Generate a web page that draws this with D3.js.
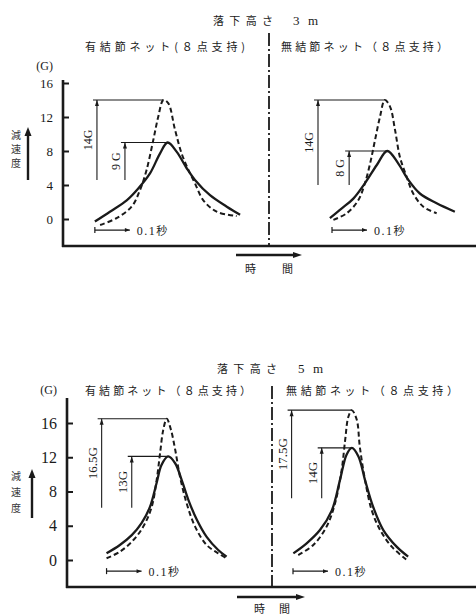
<!DOCTYPE html>
<html><head><meta charset="utf-8">
<script src="https://cdn.jsdelivr.net/npm/d3@7"></script>
<style>body{margin:0;background:#fff}svg{display:block}</style>
</head><body><svg id="c" width="476" height="616"></svg>
<script>
// ---------- data ----------
const yTicks = [0, 4, 8, 12, 16];
const titleWord = "落下高さ";
const heights = ["3 m", "5 m"];
const subtitles = [["有結節ネット(８点支持)", "無結節ネット（８点支持）"], ["有結節ネット（８点支持）", "無結節ネット（８点支持）"]];
// [time (s), deceleration (G)]
const tlSolid = [[0.091,-0.3],[0.134,0.86],[0.182,2.2],[0.215,3.6],[0.249,5.4],[0.277,7.7],[0.299,9.0],[0.325,7.9],[0.353,6.0],[0.377,4.6],[0.42,2.8],[0.468,1.45],[0.506,0.5]];
const tlDashed = [[0.106,-0.7],[0.153,0.1],[0.196,1.45],[0.22,3.4],[0.239,5.8],[0.258,9.3],[0.272,12],[0.287,14],[0.301,13.6],[0.32,10.5],[0.339,7.7],[0.358,5.8],[0.377,4.2],[0.401,2.2],[0.439,0.86],[0.496,0.35]];
const trSolid = [[0.174,0.1],[0.208,1.25],[0.241,2.4],[0.274,4.2],[0.308,6.35],[0.338,8.0],[0.369,6.55],[0.398,4.6],[0.431,3.0],[0.479,1.85],[0.531,0.86]];
const trDashed = [[0.184,-0.1],[0.222,0.67],[0.255,2.2],[0.274,4.2],[0.289,6.55],[0.303,9.3],[0.317,12],[0.331,14],[0.346,13.2],[0.36,10.5],[0.374,7.3],[0.393,5.0],[0.412,3.0],[0.441,1.45],[0.479,0.67]];
const blSolid = [[0.113,0.78],[0.151,1.75],[0.185,2.9],[0.213,4.3],[0.237,6.2],[0.256,9.0],[0.27,11.1],[0.289,12.1],[0.309,11.3],[0.328,9.3],[0.347,7.0],[0.371,4.7],[0.399,2.7],[0.432,1.17],[0.456,0.39]];
const blDashed = [[0.113,0.2],[0.151,0.97],[0.189,2.3],[0.218,3.9],[0.242,6.2],[0.256,9.3],[0.266,12.5],[0.275,15.2],[0.285,16.5],[0.297,15.2],[0.309,12.9],[0.323,9.7],[0.342,6.6],[0.366,3.9],[0.399,1.75],[0.432,0.78],[0.456,0.2]];
const brSolid = [[0.061,0.78],[0.099,1.95],[0.137,3.5],[0.171,5.8],[0.194,9.3],[0.213,12.3],[0.228,13.1],[0.247,12.1],[0.266,9.3],[0.289,6.2],[0.318,3.5],[0.356,1.56],[0.389,0.39]];
const brDashed = [[0.075,0.58],[0.118,1.75],[0.156,3.9],[0.18,6.6],[0.199,10.5],[0.209,14],[0.218,16.7],[0.228,17.5],[0.242,16.4],[0.251,13.2],[0.266,9.3],[0.285,5.8],[0.309,3.5],[0.342,1.56],[0.385,0]];
// peak annotations: [label, bracket time, base G]
const tlPeakLabels = [["14G", 0.097, 4.6], ["9 G", 0.177, 4.6]];
const trPeakLabels = [["14G", 0.140, 4.0], ["8 G", 0.229, 4.0]];
const blPeakLabels = [["16.5G", 0.099, 6.1], ["13G", 0.185, 6.1]];
const brPeakLabels = [["17.5G", 0.056, 7.2], ["14G", 0.142, 7.2]];
const timeBarStart = [0.091, 0.18, 0.113, 0.06];

// ---------- layout ----------
const svg = d3.select("#c");
const JP = "'Noto Sans CJK JP','Noto Sans',sans-serif";
const SERIF = "'Liberation Serif','DejaVu Serif',serif";
const ink = "#1a1a1a";

const charts = [
  {axisX:63, divX:269, axisTop:80, bottom:246, y0:219, y16:83, titleY:25, subY:51, gY:70,
   subX:[[85,160],[281,167]], titleX:[213,60,293,25], tickFont:13, annFont:12,
   ylab:{x:16, ys:[139,153,167], arrowX:28, a0:180, a1:127},
   timeArrow:{x0:236,x1:302,y:255, ty:273, text:"時　間", tx:[245,48]},
   divTop:33,
   panels:[{solid:tlSolid,dashed:tlDashed,labels:tlPeakLabels,tb:timeBarStart[0]},
           {solid:trSolid,dashed:trDashed,labels:trPeakLabels,tb:timeBarStart[1]}]},
  {axisX:67, divX:272, axisTop:398, bottom:587, y0:560, y16:423, titleY:373, subY:395, gY:394,
   subX:[[85,166],[286,172]], titleX:[217,60,298,25], tickFont:16, annFont:13,
   ylab:{x:16, ys:[480,496,512], arrowX:32, a0:518, a1:469},
   timeArrow:{x0:237,x1:305,y:597, ty:613, text:"時間", tx:[254,36]},
   divTop:386,
   panels:[{solid:blSolid,dashed:blDashed,labels:blPeakLabels,tb:timeBarStart[2]},
           {solid:brSolid,dashed:brDashed,labels:brPeakLabels,tb:timeBarStart[3]}]}
];

charts.forEach((c, ci) => {
  const g = svg.append("g");
  const y = d3.scaleLinear().domain([0,16]).range([c.y0, c.y16]);

  // title and subtitles
  g.append("text").attr("x", c.titleX[0]).attr("y", c.titleY).attr("textLength", c.titleX[1])
   .attr("lengthAdjust","spacing").attr("font-family", JP).attr("font-size", 11).attr("fill", ink).text(titleWord);
  g.append("text").attr("x", c.titleX[2]).attr("y", c.titleY).attr("textLength", c.titleX[3])
   .attr("lengthAdjust","spacing").attr("font-family", SERIF).attr("font-size", 13).attr("fill", ink).text(heights[ci]);
  subtitles[ci].forEach((s, i) => {
    g.append("text").attr("x", c.subX[i][0]).attr("y", c.subY).attr("textLength", c.subX[i][1])
     .attr("lengthAdjust","spacing").attr("font-family", JP).attr("font-size", 11).attr("fill", ink).text(s);
  });
  g.append("text").attr("x", c.axisX - 10).attr("y", c.gY).attr("text-anchor","end")
   .attr("font-family", SERIF).attr("font-size", 12).attr("fill", ink).text("(G)");

  // y axis
  const ax = g.append("g").attr("transform", `translate(${c.axisX},0)`)
    .call(d3.axisLeft(y).tickValues(yTicks).tickSize(-6).tickPadding(10).tickFormat(d3.format("d")));
  ax.select(".domain").remove();
  ax.selectAll(".tick line").attr("stroke", ink).attr("stroke-width", 2);
  ax.selectAll(".tick text").attr("font-family", SERIF).attr("font-size", c.tickFont).attr("fill", ink);
  g.append("line").attr("x1", c.axisX).attr("x2", c.axisX).attr("y1", c.axisTop).attr("y2", c.bottom + 1)
   .attr("stroke", ink).attr("stroke-width", 2.6);
  // x baseline
  g.append("line").attr("x1", c.axisX - 1).attr("x2", 476).attr("y1", c.bottom).attr("y2", c.bottom)
   .attr("stroke", ink).attr("stroke-width", 2.6);
  // divider
  g.append("line").attr("x1", c.divX).attr("x2", c.divX).attr("y1", c.divTop).attr("y2", c.bottom)
   .attr("stroke", ink).attr("stroke-width", 1.8).attr("stroke-dasharray", "13,3,2,3");

  // y label
  ["減","速","度"].forEach((ch, i) => {
    g.append("text").attr("x", c.ylab.x).attr("y", c.ylab.ys[i]).attr("text-anchor","middle")
     .attr("font-family", JP).attr("font-size", 10).attr("fill", "#333").text(ch);
  });
  g.append("line").attr("x1", c.ylab.arrowX).attr("x2", c.ylab.arrowX).attr("y1", c.ylab.a0).attr("y2", c.ylab.a1 + 6)
   .attr("stroke", ink).attr("stroke-width", 2.4);
  g.append("path").attr("d", `M${c.ylab.arrowX},${c.ylab.a1} l-3.5,9 h7 z`).attr("fill", ink);

  // time arrow
  const ta = c.timeArrow;
  g.append("line").attr("x1", ta.x0).attr("x2", ta.x1 - 6).attr("y1", ta.y).attr("y2", ta.y)
   .attr("stroke", ink).attr("stroke-width", 2.4);
  g.append("path").attr("d", `M${ta.x1},${ta.y} l-9,-3 v6 z`).attr("fill", ink);
  g.append("text").attr("x", ta.tx[0]).attr("y", ta.ty).attr("textLength", ta.tx[1]).attr("lengthAdjust","spacing")
   .attr("font-family", JP).attr("font-size", 11).attr("fill", ink).text(ta.text);

  // panels
  c.panels.forEach((p, pi) => {
    const x0 = pi === 0 ? c.axisX : c.divX;
    const x = d3.scaleLinear().domain([0, 0.6]).range([x0, x0 + 210]);
    const line = d3.line().x(d => x(d[0])).y(d => y(d[1])).curve(d3.curveCatmullRom.alpha(0.5));
    g.append("path").datum(p.dashed).attr("d", line).attr("fill","none").attr("stroke", ink)
     .attr("stroke-width", 2).attr("stroke-dasharray", "5,3");
    g.append("path").datum(p.solid).attr("d", line).attr("fill","none").attr("stroke", ink)
     .attr("stroke-width", 2.3);

    // peak brackets
    const peaks = [d3.greatest(p.dashed, d => d[1]), d3.greatest(p.solid, d => d[1])];
    p.labels.forEach((L, i) => {
      const pk = peaks[i];
      const vx = x(L[1]), top = y(pk[1]), base = y(L[2]);
      g.append("line").attr("x1", vx - 4).attr("x2", x(pk[0])).attr("y1", top).attr("y2", top)
       .attr("stroke", ink).attr("stroke-width", 1.1);
      g.append("line").attr("x1", vx).attr("x2", vx).attr("y1", top).attr("y2", base)
       .attr("stroke", ink).attr("stroke-width", 1.1);
      g.append("path").attr("d", `M${vx},${top} l-2,6 h4 z`).attr("fill", ink);
      g.append("text").attr("transform", `translate(${vx - 5},${(top + base) / 2}) rotate(-90)`)
       .attr("text-anchor","middle").attr("font-family", SERIF).attr("font-size", c.annFont)
       .attr("fill", ink).text(L[0]);
    });

    // 0.1 s scale bar
    const by = y(-1.3);
    const bx0 = x(p.tb), bx1 = x(p.tb + 0.1);
    g.append("line").attr("x1", bx0).attr("x2", bx1).attr("y1", by).attr("y2", by).attr("stroke", ink).attr("stroke-width", 1.2);
    g.append("line").attr("x1", bx0).attr("x2", bx0).attr("y1", by - 3).attr("y2", by + 3).attr("stroke", ink).attr("stroke-width", 1.2);
    g.append("path").attr("d", `M${bx1},${by} l-5,-2 v4 z`).attr("fill", ink);
    const tt = g.append("text").attr("x", bx1 + 7).attr("y", by + 4.5).attr("fill", ink).attr("font-size", 12);
    tt.append("tspan").attr("font-family", SERIF).attr("letter-spacing", 1.5).text("0.1");
    tt.append("tspan").attr("font-family", JP).attr("font-size", 11).text("秒");
  });
});
</script></body></html>
